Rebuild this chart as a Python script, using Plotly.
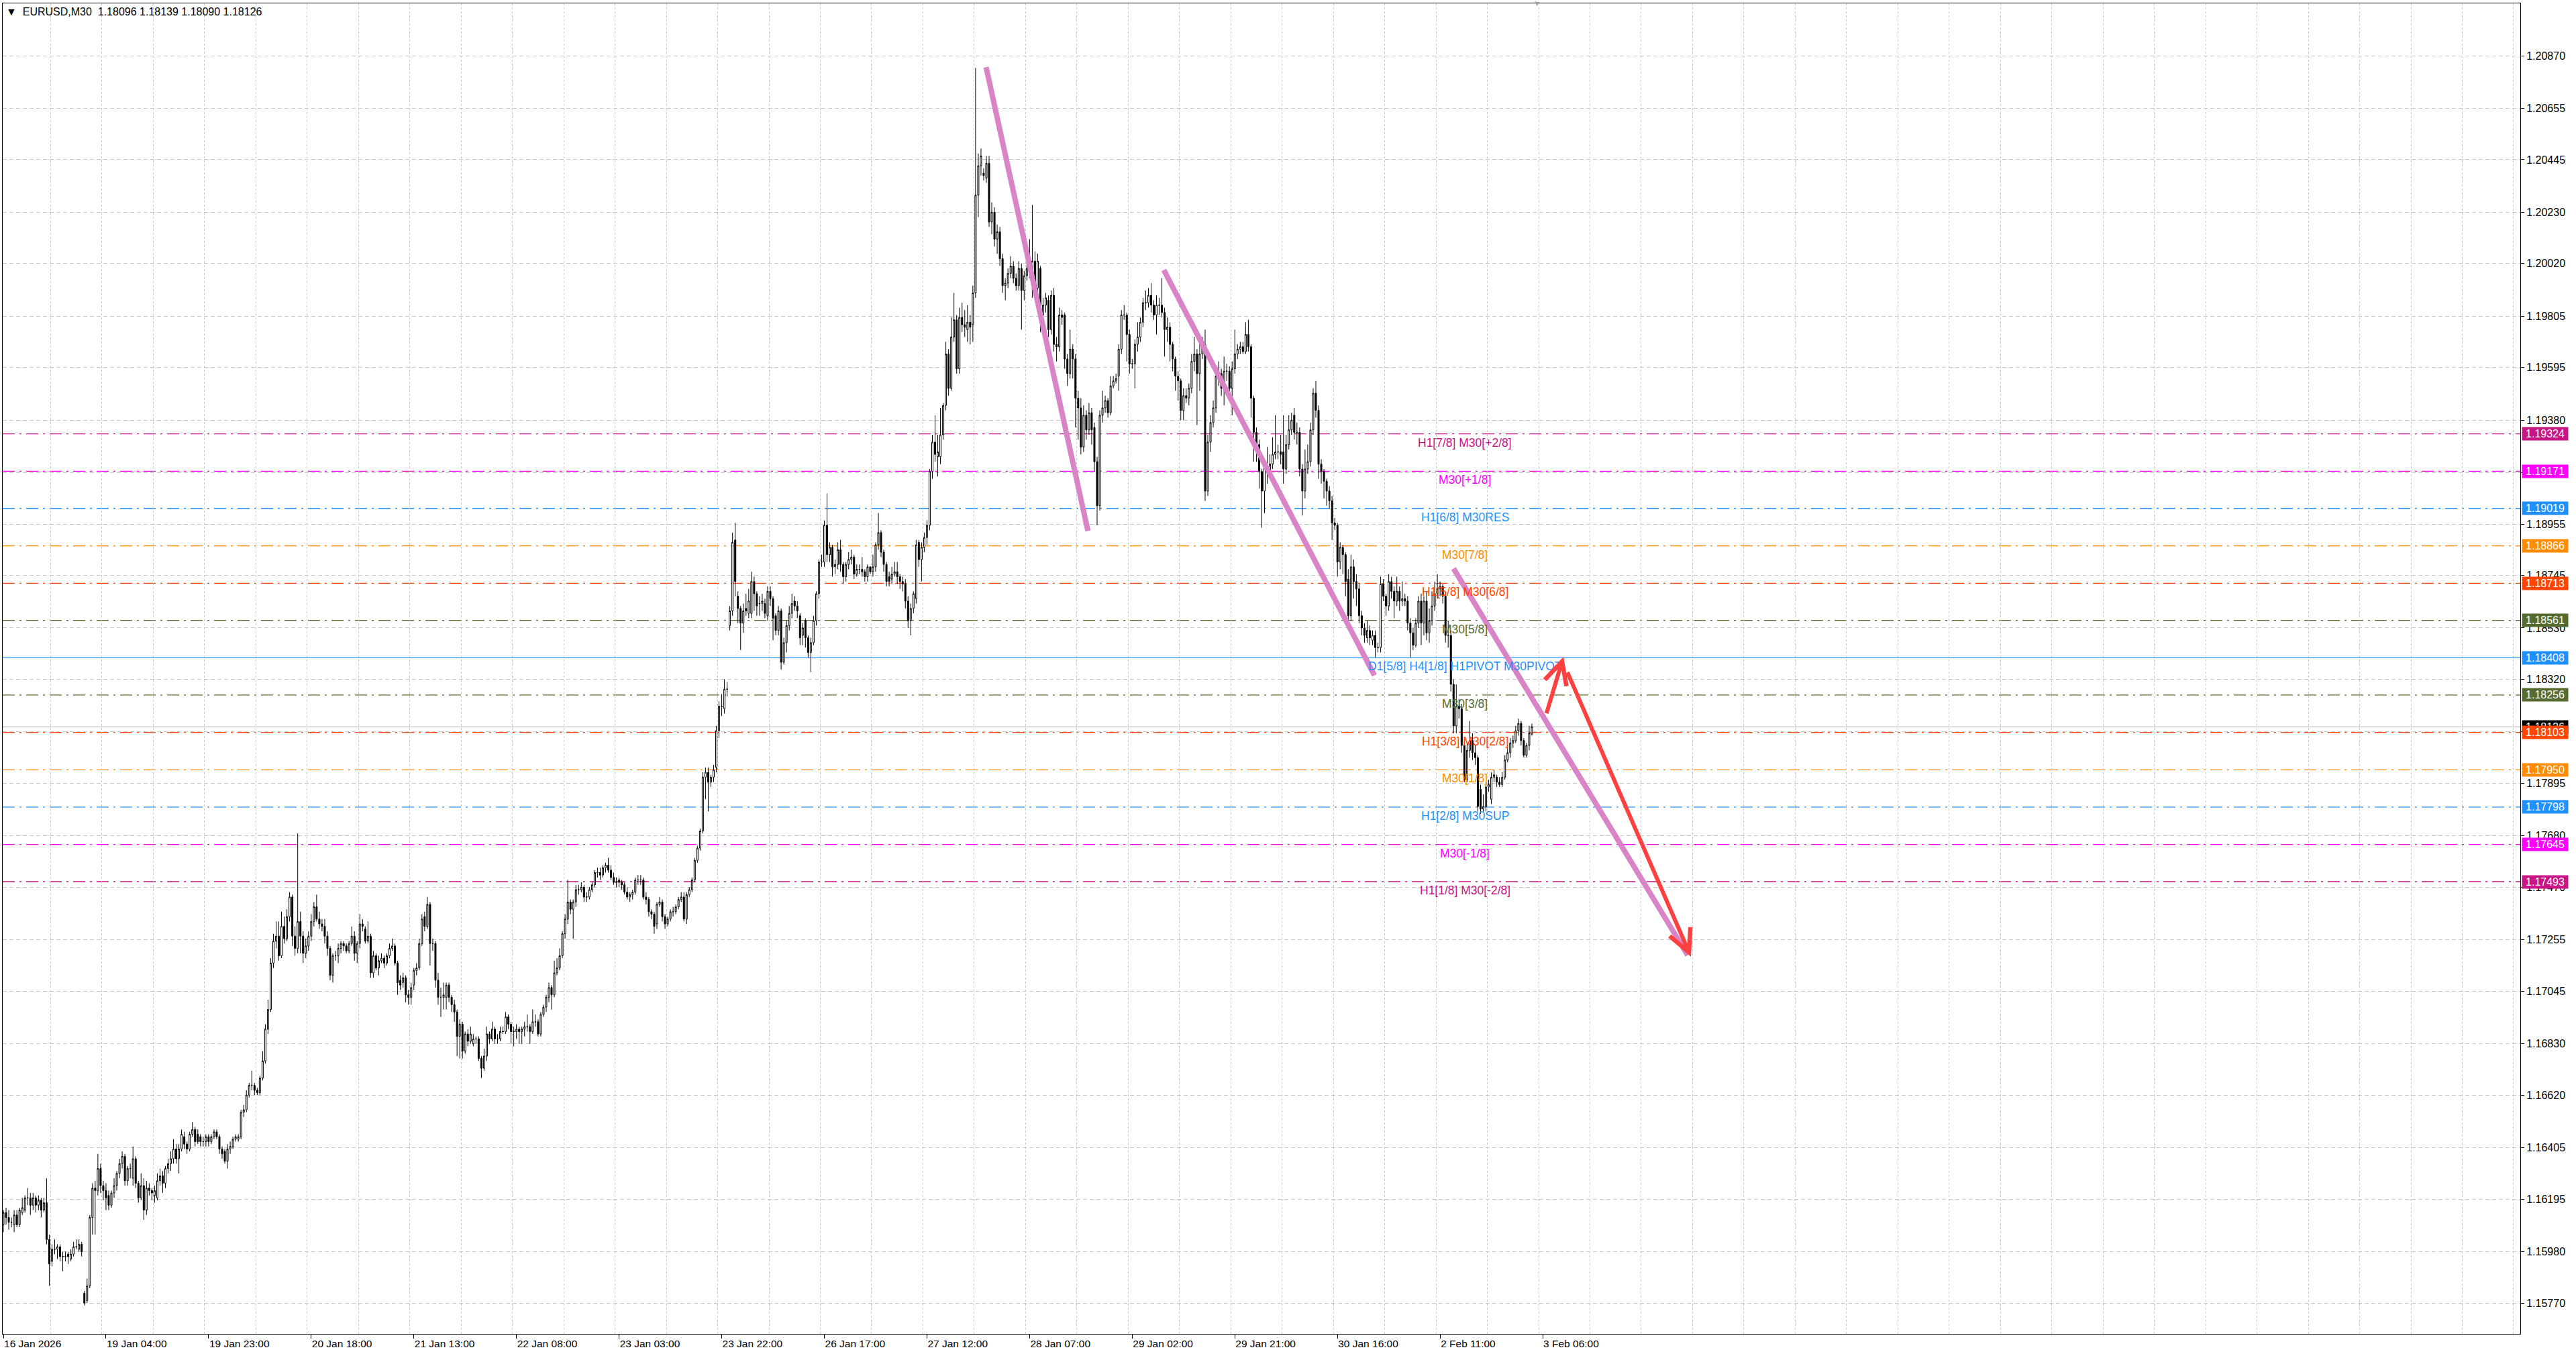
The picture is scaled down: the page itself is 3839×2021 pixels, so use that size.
import plotly.graph_objects as go

# EURUSD M30 candles (bar index 0 = 16 Jan 2026 09:00)
OPEN = [
    1.1609, 1.1614, 1.1612, 1.1610, 1.1609, 1.1613, 1.1609, 1.1614, 1.1615, 1.1620,
    1.1620, 1.1617, 1.1620, 1.1617, 1.1619, 1.1615, 1.1618, 1.1603, 1.1594, 1.1599,
    1.1599, 1.1600, 1.1596, 1.1596, 1.1597, 1.1595, 1.1597, 1.1600, 1.1599, 1.1601,
    1.1581, 1.1578, 1.1584, 1.1612, 1.1624, 1.1623, 1.1632, 1.1625, 1.1623, 1.1621,
    1.1617, 1.1622, 1.1625, 1.1630, 1.1634, 1.1637, 1.1627, 1.1632, 1.1628, 1.1636,
    1.1626, 1.1620, 1.1625, 1.1615, 1.1624, 1.1623, 1.1621, 1.1620, 1.1627, 1.1629,
    1.1626, 1.1632, 1.1634, 1.1636, 1.1640, 1.1636, 1.1640, 1.1645, 1.1642, 1.1640,
    1.1646, 1.1648, 1.1646, 1.1645, 1.1643, 1.1643, 1.1645, 1.1643, 1.1645, 1.1647,
    1.1645, 1.1640, 1.1639, 1.1635, 1.1640, 1.1641, 1.1644, 1.1644, 1.1645, 1.1655,
    1.1656, 1.1662, 1.1666, 1.1666, 1.1664, 1.1663, 1.1669, 1.1676, 1.1689, 1.1697,
    1.1716, 1.1725, 1.1727, 1.1719, 1.1731, 1.1726, 1.1735, 1.1743, 1.1727, 1.1722,
    1.1733, 1.1727, 1.1720, 1.1723, 1.1727, 1.1733, 1.1739, 1.1734, 1.1732, 1.1731,
    1.1727, 1.1722, 1.1711, 1.1719, 1.1719, 1.1722, 1.1724, 1.1723, 1.1721, 1.1724,
    1.1727, 1.1720, 1.1724, 1.1732, 1.1730, 1.1725, 1.1727, 1.1712, 1.1719, 1.1714,
    1.1717, 1.1718, 1.1716, 1.1719, 1.1722, 1.1723, 1.1716, 1.1709, 1.1708, 1.1710,
    1.1703, 1.1702, 1.1707, 1.1713, 1.1714, 1.1724, 1.1735, 1.1731, 1.1740, 1.1724,
    1.1724, 1.1709, 1.1702, 1.1702, 1.1702, 1.1707, 1.1702, 1.1699, 1.1696, 1.1686,
    1.1691, 1.1680, 1.1687, 1.1684, 1.1683, 1.1685, 1.1685, 1.1677, 1.1673, 1.1678,
    1.1687, 1.1685, 1.1689, 1.1685, 1.1685, 1.1688, 1.1688, 1.1694, 1.1691, 1.1688,
    1.1688, 1.1689, 1.1688, 1.1689, 1.1690, 1.1690, 1.1688, 1.1692, 1.1692, 1.1687,
    1.1695, 1.1698, 1.1702, 1.1706, 1.1703, 1.1712, 1.1714, 1.1719, 1.1728, 1.1734,
    1.1741, 1.1738, 1.1741, 1.1746, 1.1746, 1.1747, 1.1743, 1.1743, 1.1746, 1.1748,
    1.1753, 1.1753, 1.1752, 1.1755, 1.1756, 1.1754, 1.1751, 1.1749, 1.1750, 1.1749,
    1.1748, 1.1745, 1.1743, 1.1744, 1.1745, 1.1750, 1.1750, 1.1750, 1.1743, 1.1742,
    1.1737, 1.1736, 1.1732, 1.1740, 1.1741, 1.1735, 1.1732, 1.1734, 1.1737, 1.1737,
    1.1739, 1.1742, 1.1743, 1.1734, 1.1744, 1.1746, 1.1750, 1.1758, 1.1763, 1.1770,
    1.1792, 1.1794, 1.1790, 1.1792, 1.1796, 1.1811, 1.1821, 1.1820, 1.1828, 1.1854,
    1.1860, 1.1889, 1.1866, 1.1861, 1.1855, 1.1861, 1.1859, 1.1859, 1.1872, 1.1867,
    1.1863, 1.1863, 1.1863, 1.1858, 1.1868, 1.1865, 1.1858, 1.1852, 1.1860, 1.1839,
    1.1847, 1.1854, 1.1859, 1.1864, 1.1862, 1.1858, 1.1850, 1.1856, 1.1849, 1.1843,
    1.1847, 1.1856, 1.1867, 1.1880, 1.1880, 1.1895, 1.1883, 1.1886, 1.1878, 1.1879,
    1.1885, 1.1879, 1.1874, 1.1879, 1.1881, 1.1882, 1.1875, 1.1877, 1.1877, 1.1876,
    1.1874, 1.1878, 1.1876, 1.1878, 1.1887, 1.1892, 1.1884, 1.1879, 1.1874, 1.1873,
    1.1875, 1.1876, 1.1874, 1.1872, 1.1871, 1.1864, 1.1856, 1.1861, 1.1865, 1.1888,
    1.1881, 1.1886, 1.1890, 1.1895, 1.1917, 1.1929, 1.1923, 1.1923, 1.1932, 1.1944,
    1.1965, 1.1951, 1.1972, 1.1979, 1.1959, 1.1980, 1.1977, 1.1975, 1.1978, 1.1977,
    1.1990, 1.2030, 1.2042, 1.2039, 1.2037, 1.2043, 1.2019, 1.2023, 1.2012, 1.2015,
    1.2004, 1.1993, 1.1994, 1.1998, 1.2001, 1.1996, 1.1993, 1.2000, 1.1991, 1.1997,
    1.2000, 1.1993, 1.2003, 1.1992, 1.2000, 1.1981, 1.1985, 1.1987, 1.1975, 1.1989,
    1.1969, 1.1968, 1.1981, 1.1981, 1.1963, 1.1957, 1.1967, 1.1963, 1.1947, 1.1943,
    1.1927, 1.1940, 1.1934, 1.1941, 1.1935, 1.1921, 1.1903, 1.1940, 1.1943, 1.1946,
    1.1941, 1.1952, 1.1954, 1.1956, 1.1967, 1.1981, 1.1981, 1.1973, 1.1961, 1.1961,
    1.1969, 1.1972, 1.1978, 1.1986, 1.1986, 1.1989, 1.1985, 1.1981, 1.1985, 1.1985,
    1.1982, 1.1975, 1.1976, 1.1969, 1.1963, 1.1956, 1.1954, 1.1942, 1.1948, 1.1947,
    1.1951, 1.1962, 1.1965, 1.1957, 1.1965, 1.1969, 1.1909, 1.1929, 1.1937, 1.1943,
    1.1956, 1.1957, 1.1951, 1.1958, 1.1958, 1.1951, 1.1959, 1.1965, 1.1967, 1.1968,
    1.1966, 1.1973, 1.1968, 1.1947, 1.1933, 1.1928, 1.1917, 1.1909, 1.1919, 1.1917,
    1.1920, 1.1924, 1.1925, 1.1925, 1.1925, 1.1918, 1.1928, 1.1934, 1.1940, 1.1933,
    1.1933, 1.1918, 1.1909, 1.1918, 1.1921, 1.1934, 1.1949, 1.1942, 1.1920, 1.1917,
    1.1913, 1.1909, 1.1905, 1.1896, 1.1895, 1.1880, 1.1886, 1.1883, 1.1873, 1.1858,
    1.1878, 1.1872, 1.1869, 1.1858, 1.1853, 1.1849, 1.1852, 1.1848, 1.1850, 1.1845,
    1.1845, 1.1871, 1.1866, 1.1862, 1.1872, 1.1868, 1.1864, 1.1868, 1.1864, 1.1865,
    1.1864, 1.1855, 1.1851, 1.1846, 1.1855, 1.1864, 1.1855, 1.1864, 1.1851, 1.1856,
    1.1862, 1.1867, 1.1869, 1.1870, 1.1866, 1.1850, 1.1850, 1.1830, 1.1813, 1.1821,
    1.1820, 1.1805, 1.1791, 1.1803, 1.1807, 1.1802, 1.1800, 1.1787, 1.1779, 1.1780,
    1.1788, 1.1783, 1.1792, 1.1792, 1.1790, 1.1789, 1.1792, 1.1799, 1.1802, 1.1806,
    1.1807, 1.1811, 1.1814, 1.1807, 1.1801, 1.1805, 1.18096,
]
HIGH = [
    1.1615, 1.1616, 1.1615, 1.1612, 1.1615, 1.1615, 1.1616, 1.1620, 1.1621, 1.1624,
    1.1622, 1.1622, 1.1621, 1.1621, 1.1620, 1.1620, 1.1628, 1.1605, 1.1601, 1.1603,
    1.1601, 1.1601, 1.1598, 1.1598, 1.1598, 1.1599, 1.1602, 1.1603, 1.1603, 1.1602,
    1.1582, 1.1587, 1.1613, 1.1626, 1.1627, 1.1638, 1.1634, 1.1627, 1.1626, 1.1623,
    1.1623, 1.1628, 1.1631, 1.1636, 1.1639, 1.1638, 1.1633, 1.1634, 1.1641, 1.1637,
    1.1627, 1.1630, 1.1628, 1.1627, 1.1626, 1.1624, 1.1625, 1.1630, 1.1632, 1.1631,
    1.1633, 1.1636, 1.1639, 1.1644, 1.1642, 1.1642, 1.1648, 1.1647, 1.1643, 1.1647,
    1.1651, 1.1649, 1.1648, 1.1646, 1.1645, 1.1646, 1.1646, 1.1646, 1.1648, 1.1648,
    1.1646, 1.1641, 1.1640, 1.1642, 1.1643, 1.1645, 1.1646, 1.1646, 1.1656, 1.1658,
    1.1664, 1.1667, 1.1672, 1.1667, 1.1665, 1.1670, 1.1680, 1.1691, 1.1701, 1.1718,
    1.1728, 1.1733, 1.1733, 1.1737, 1.1735, 1.1738, 1.1745, 1.1744, 1.1731, 1.1769,
    1.1737, 1.1729, 1.1726, 1.1729, 1.1736, 1.1741, 1.1744, 1.1737, 1.1734, 1.1734,
    1.1729, 1.1723, 1.1720, 1.1721, 1.1724, 1.1725, 1.1725, 1.1724, 1.1725, 1.1731,
    1.1729, 1.1725, 1.1736, 1.1734, 1.1731, 1.1733, 1.1728, 1.1721, 1.1720, 1.1719,
    1.1720, 1.1719, 1.1720, 1.1724, 1.1726, 1.1724, 1.1717, 1.1711, 1.1712, 1.1711,
    1.1705, 1.1708, 1.1714, 1.1716, 1.1726, 1.1736, 1.1737, 1.1743, 1.1741, 1.1726,
    1.1725, 1.1712, 1.1706, 1.1708, 1.1708, 1.1708, 1.1703, 1.1701, 1.1697, 1.1693,
    1.1692, 1.1688, 1.1689, 1.1690, 1.1687, 1.1686, 1.1686, 1.1678, 1.1681, 1.1690,
    1.1688, 1.1692, 1.1690, 1.1687, 1.1690, 1.1690, 1.1696, 1.1695, 1.1692, 1.1690,
    1.1691, 1.1690, 1.1690, 1.1692, 1.1695, 1.1691, 1.1697, 1.1695, 1.1693, 1.1696,
    1.1699, 1.1703, 1.1708, 1.1707, 1.1717, 1.1718, 1.1722, 1.1729, 1.1736, 1.1750,
    1.1742, 1.1742, 1.1748, 1.1748, 1.1749, 1.1748, 1.1745, 1.1747, 1.1749, 1.1754,
    1.1755, 1.1755, 1.1756, 1.1757, 1.1759, 1.1756, 1.1753, 1.1751, 1.1751, 1.1750,
    1.1749, 1.1747, 1.1745, 1.1746, 1.1751, 1.1752, 1.1752, 1.1751, 1.1745, 1.1743,
    1.1738, 1.1737, 1.1741, 1.1743, 1.1742, 1.1736, 1.1735, 1.1738, 1.1739, 1.1740,
    1.1743, 1.1745, 1.1745, 1.1745, 1.1747, 1.1751, 1.1759, 1.1764, 1.1771, 1.1794,
    1.1796, 1.1796, 1.1793, 1.1797, 1.1813, 1.1823, 1.1826, 1.1832, 1.1831, 1.1862,
    1.1892, 1.1896, 1.1868, 1.1862, 1.1863, 1.1867, 1.1869, 1.1876, 1.1874, 1.1868,
    1.1866, 1.1867, 1.1865, 1.1870, 1.1870, 1.1866, 1.1859, 1.1862, 1.1861, 1.1849,
    1.1856, 1.1862, 1.1867, 1.1866, 1.1864, 1.1859, 1.1855, 1.1857, 1.1850, 1.1849,
    1.1858, 1.1868, 1.1881, 1.1883, 1.1897, 1.1908, 1.1888, 1.1887, 1.1881, 1.1888,
    1.1889, 1.1880, 1.1880, 1.1884, 1.1885, 1.1883, 1.1879, 1.1879, 1.1882, 1.1877,
    1.1879, 1.1878, 1.1883, 1.1888, 1.1900, 1.1893, 1.1885, 1.1880, 1.1876, 1.1878,
    1.1880, 1.1880, 1.1875, 1.1874, 1.1873, 1.1866, 1.1863, 1.1868, 1.1889, 1.1889,
    1.1888, 1.1892, 1.1897, 1.1918, 1.1932, 1.1940, 1.1932, 1.1943, 1.1945, 1.1970,
    1.1967, 1.1980, 1.1990, 1.1981, 1.1984, 1.1986, 1.1983, 1.1985, 1.1981, 1.1993,
    1.2082, 1.2047, 1.2049, 1.2041, 1.2046, 1.2046, 1.2027, 1.2025, 1.2018, 1.2017,
    1.2006, 1.1996, 1.2000, 1.2005, 1.2003, 1.1998, 1.2003, 1.2002, 1.1999, 1.2004,
    1.2012, 1.2026, 1.2007, 1.2006, 1.2001, 1.1988, 1.1990, 1.1989, 1.1991, 1.1992,
    1.1972, 1.1984, 1.1983, 1.1982, 1.1965, 1.1975, 1.1969, 1.1965, 1.1950, 1.1947,
    1.1944, 1.1942, 1.1945, 1.1943, 1.1937, 1.1923, 1.1942, 1.1950, 1.1948, 1.1947,
    1.1956, 1.1956, 1.1957, 1.1969, 1.1983, 1.1985, 1.1982, 1.1975, 1.1963, 1.1971,
    1.1978, 1.1980, 1.1988, 1.1991, 1.1992, 1.1994, 1.1987, 1.1989, 1.1988, 1.1996,
    1.1984, 1.1980, 1.1978, 1.1970, 1.1964, 1.1958, 1.1955, 1.1951, 1.1951, 1.1953,
    1.1965, 1.1972, 1.1967, 1.1969, 1.1972, 1.1975, 1.1932, 1.1940, 1.1946, 1.1958,
    1.1962, 1.1959, 1.1964, 1.1961, 1.1960, 1.1962, 1.1975, 1.1969, 1.1970, 1.1970,
    1.1978, 1.1979, 1.1969, 1.1948, 1.1935, 1.1930, 1.1918, 1.1921, 1.1927, 1.1924,
    1.1931, 1.1940, 1.1928, 1.1932, 1.1940, 1.1932, 1.1940, 1.1941, 1.1943, 1.1937,
    1.1935, 1.1920, 1.1926, 1.1928, 1.1937, 1.1951, 1.1954, 1.1944, 1.1922, 1.1918,
    1.1914, 1.1911, 1.1907, 1.1898, 1.1896, 1.1888, 1.1887, 1.1884, 1.1877, 1.1883,
    1.1881, 1.1875, 1.1871, 1.1860, 1.1855, 1.1856, 1.1854, 1.1852, 1.1852, 1.1847,
    1.1874, 1.1873, 1.1867, 1.1875, 1.1874, 1.1870, 1.1874, 1.1870, 1.1872, 1.1867,
    1.1866, 1.1857, 1.1853, 1.1857, 1.1866, 1.1867, 1.1866, 1.1868, 1.1861, 1.1868,
    1.1872, 1.1875, 1.1872, 1.1871, 1.1868, 1.1856, 1.1852, 1.1832, 1.1830, 1.1824,
    1.1822, 1.1807, 1.1806, 1.1815, 1.1810, 1.1805, 1.1801, 1.1789, 1.1785, 1.1790,
    1.1791, 1.1794, 1.1795, 1.1793, 1.1792, 1.1794, 1.1801, 1.1805, 1.1808, 1.1809,
    1.1813, 1.1816, 1.1815, 1.1808, 1.1806, 1.1813, 1.18139,
]
LOW = [
    1.1606, 1.1609, 1.1607, 1.1608, 1.1606, 1.1608, 1.1608, 1.1613, 1.1614, 1.1617,
    1.1613, 1.1615, 1.1614, 1.1615, 1.1612, 1.1614, 1.1601, 1.1584, 1.1592, 1.1597,
    1.1595, 1.1594, 1.1590, 1.1594, 1.1593, 1.1594, 1.1596, 1.1599, 1.1598, 1.1596,
    1.1576, 1.1577, 1.1583, 1.1605, 1.1605, 1.1621, 1.1622, 1.1619, 1.1615, 1.1615,
    1.1616, 1.1620, 1.1623, 1.1628, 1.1632, 1.1625, 1.1625, 1.1628, 1.1625, 1.1624,
    1.1618, 1.1619, 1.1611, 1.1613, 1.1621, 1.1619, 1.1618, 1.1619, 1.1625, 1.1622,
    1.1624, 1.1630, 1.1631, 1.1634, 1.1634, 1.1630, 1.1639, 1.1640, 1.1638, 1.1639,
    1.1645, 1.1641, 1.1642, 1.1641, 1.1641, 1.1641, 1.1641, 1.1642, 1.1644, 1.1644,
    1.1638, 1.1636, 1.1634, 1.1632, 1.1638, 1.1640, 1.1643, 1.1643, 1.1644, 1.1653,
    1.1655, 1.1661, 1.1664, 1.1662, 1.1662, 1.1662, 1.1668, 1.1675, 1.1687, 1.1696,
    1.1714, 1.1722, 1.1717, 1.1718, 1.1724, 1.1725, 1.1733, 1.1723, 1.1719, 1.1720,
    1.1720, 1.1716, 1.1718, 1.1721, 1.1725, 1.1731, 1.1733, 1.1730, 1.1729, 1.1724,
    1.1719, 1.1709, 1.1708, 1.1717, 1.1716, 1.1720, 1.1721, 1.1720, 1.1720, 1.1723,
    1.1717, 1.1716, 1.1722, 1.1729, 1.1724, 1.1724, 1.1710, 1.1710, 1.1713, 1.1711,
    1.1716, 1.1714, 1.1715, 1.1718, 1.1721, 1.1715, 1.1703, 1.1705, 1.1706, 1.1700,
    1.1699, 1.1699, 1.1705, 1.1711, 1.1713, 1.1723, 1.1729, 1.1730, 1.1715, 1.1721,
    1.1706, 1.1699, 1.1694, 1.1697, 1.1697, 1.1700, 1.1696, 1.1692, 1.1678, 1.1677,
    1.1677, 1.1679, 1.1682, 1.1683, 1.1682, 1.1683, 1.1676, 1.1669, 1.1672, 1.1676,
    1.1683, 1.1684, 1.1683, 1.1683, 1.1684, 1.1687, 1.1687, 1.1689, 1.1683, 1.1682,
    1.1685, 1.1683, 1.1683, 1.1686, 1.1688, 1.1683, 1.1687, 1.1690, 1.1686, 1.1686,
    1.1694, 1.1696, 1.1700, 1.1697, 1.1702, 1.1711, 1.1713, 1.1718, 1.1726, 1.1732,
    1.1736, 1.1726, 1.1739, 1.1744, 1.1745, 1.1741, 1.1741, 1.1742, 1.1745, 1.1747,
    1.1751, 1.1750, 1.1751, 1.1753, 1.1753, 1.1750, 1.1748, 1.1747, 1.1747, 1.1746,
    1.1744, 1.1742, 1.1741, 1.1742, 1.1744, 1.1748, 1.1748, 1.1742, 1.1740, 1.1735,
    1.1734, 1.1728, 1.1730, 1.1739, 1.1733, 1.1730, 1.1731, 1.1733, 1.1735, 1.1736,
    1.1738, 1.1741, 1.1733, 1.1732, 1.1743, 1.1745, 1.1749, 1.1757, 1.1762, 1.1769,
    1.1783, 1.1778, 1.1788, 1.1790, 1.1794, 1.1808, 1.1817, 1.1818, 1.1825, 1.1852,
    1.1858, 1.1866, 1.1855, 1.1844, 1.1851, 1.1858, 1.1857, 1.1857, 1.1860, 1.1858,
    1.1858, 1.1860, 1.1857, 1.1856, 1.1862, 1.1848, 1.1850, 1.1850, 1.1836, 1.1838,
    1.1843, 1.1852, 1.1857, 1.1860, 1.1857, 1.1846, 1.1846, 1.1845, 1.1841, 1.1835,
    1.1846, 1.1854, 1.1865, 1.1878, 1.1878, 1.1880, 1.1880, 1.1874, 1.1875, 1.1877,
    1.1876, 1.1871, 1.1872, 1.1877, 1.1879, 1.1873, 1.1874, 1.1875, 1.1874, 1.1872,
    1.1872, 1.1875, 1.1874, 1.1876, 1.1885, 1.1882, 1.1876, 1.1870, 1.1870, 1.1871,
    1.1874, 1.1871, 1.1869, 1.1868, 1.1861, 1.1853, 1.1850, 1.1859, 1.1863, 1.1878,
    1.1872, 1.1884, 1.1887, 1.1893, 1.1914, 1.1921, 1.1915, 1.1920, 1.1930, 1.1942,
    1.1948, 1.1950, 1.1970, 1.1957, 1.1957, 1.1974, 1.1972, 1.1970, 1.1969, 1.1970,
    1.1988, 1.2021, 1.2038, 1.2036, 1.2035, 1.2017, 1.2014, 1.2009, 1.2006, 1.2001,
    1.1990, 1.1987, 1.1992, 1.1996, 1.1994, 1.1991, 1.1991, 1.1975, 1.1987, 1.1995,
    1.1996, 1.1988, 1.1989, 1.1990, 1.1974, 1.1978, 1.1982, 1.1972, 1.1973, 1.1966,
    1.1962, 1.1966, 1.1977, 1.1959, 1.1952, 1.1955, 1.1955, 1.1935, 1.1930, 1.1924,
    1.1925, 1.1930, 1.1932, 1.1928, 1.1917, 1.1895, 1.1901, 1.1937, 1.1941, 1.1939,
    1.1940, 1.1951, 1.1953, 1.1950, 1.1965, 1.1979, 1.1962, 1.1957, 1.1959, 1.1951,
    1.1966, 1.1970, 1.1976, 1.1983, 1.1984, 1.1982, 1.1979, 1.1973, 1.1981, 1.1980,
    1.1964, 1.1970, 1.1962, 1.1958, 1.1950, 1.1946, 1.1938, 1.1938, 1.1945, 1.1944,
    1.1949, 1.1958, 1.1936, 1.1950, 1.1963, 1.1905, 1.1907, 1.1925, 1.1935, 1.1941,
    1.1952, 1.1948, 1.1944, 1.1954, 1.1948, 1.1940, 1.1957, 1.1963, 1.1965, 1.1965,
    1.1965, 1.1966, 1.1939, 1.1921, 1.1921, 1.1910, 1.1894, 1.1900, 1.1912, 1.1914,
    1.1918, 1.1922, 1.1922, 1.1920, 1.1912, 1.1916, 1.1926, 1.1932, 1.1930, 1.1928,
    1.1915, 1.1899, 1.1906, 1.1916, 1.1919, 1.1932, 1.1939, 1.1914, 1.1912, 1.1906,
    1.1903, 1.1902, 1.1889, 1.1893, 1.1874, 1.1877, 1.1875, 1.1866, 1.1855, 1.1856,
    1.1865, 1.1862, 1.1855, 1.1850, 1.1847, 1.1847, 1.1846, 1.1846, 1.1841, 1.1843,
    1.1843, 1.1864, 1.1858, 1.1860, 1.1865, 1.1857, 1.1862, 1.1860, 1.1862, 1.1862,
    1.1852, 1.1841, 1.1844, 1.1845, 1.1853, 1.1846, 1.1850, 1.1848, 1.1847, 1.1854,
    1.1860, 1.1865, 1.1866, 1.1863, 1.1847, 1.1845, 1.1827, 1.1810, 1.1810, 1.1816,
    1.1802, 1.1790, 1.1790, 1.1800, 1.1799, 1.1797, 1.1778, 1.1777, 1.1778, 1.1778,
    1.1786, 1.1781, 1.1790, 1.1788, 1.1788, 1.1788, 1.1791, 1.1798, 1.1800, 1.1804,
    1.1806, 1.1809, 1.1805, 1.1800, 1.1800, 1.1803, 1.18090,
]
CLOSE = [
    1.1614, 1.1612, 1.1610, 1.1610, 1.1613, 1.1609, 1.1615, 1.1616, 1.1620, 1.1620,
    1.1617, 1.1620, 1.1617, 1.1619, 1.1615, 1.1618, 1.1603, 1.1593, 1.1599, 1.1599,
    1.1600, 1.1596, 1.1596, 1.1596, 1.1596, 1.1597, 1.1600, 1.1600, 1.1601, 1.1598,
    1.1577, 1.1584, 1.1612, 1.1624, 1.1623, 1.1632, 1.1625, 1.1623, 1.1620, 1.1617,
    1.1622, 1.1625, 1.1630, 1.1634, 1.1637, 1.1627, 1.1632, 1.1632, 1.1636, 1.1626,
    1.1620, 1.1625, 1.1615, 1.1624, 1.1623, 1.1622, 1.1623, 1.1627, 1.1629, 1.1626,
    1.1632, 1.1634, 1.1636, 1.1640, 1.1636, 1.1640, 1.1646, 1.1642, 1.1640, 1.1646,
    1.1648, 1.1643, 1.1643, 1.1643, 1.1643, 1.1645, 1.1643, 1.1645, 1.1647, 1.1645,
    1.1640, 1.1638, 1.1635, 1.1640, 1.1641, 1.1644, 1.1645, 1.1645, 1.1655, 1.1656,
    1.1662, 1.1666, 1.1666, 1.1664, 1.1663, 1.1669, 1.1676, 1.1689, 1.1697, 1.1716,
    1.1725, 1.1727, 1.1719, 1.1731, 1.1726, 1.1735, 1.1743, 1.1727, 1.1722, 1.1733,
    1.1727, 1.1720, 1.1723, 1.1727, 1.1733, 1.1739, 1.1734, 1.1732, 1.1731, 1.1727,
    1.1722, 1.1711, 1.1719, 1.1719, 1.1722, 1.1724, 1.1723, 1.1721, 1.1724, 1.1727,
    1.1720, 1.1724, 1.1732, 1.1731, 1.1725, 1.1727, 1.1712, 1.1719, 1.1714, 1.1717,
    1.1718, 1.1716, 1.1719, 1.1722, 1.1723, 1.1716, 1.1708, 1.1707, 1.1710, 1.1703,
    1.1702, 1.1706, 1.1713, 1.1714, 1.1724, 1.1734, 1.1731, 1.1740, 1.1724, 1.1724,
    1.1709, 1.1702, 1.1702, 1.1703, 1.1707, 1.1702, 1.1699, 1.1696, 1.1686, 1.1691,
    1.1680, 1.1687, 1.1684, 1.1687, 1.1685, 1.1685, 1.1677, 1.1673, 1.1678, 1.1687,
    1.1685, 1.1689, 1.1685, 1.1685, 1.1688, 1.1688, 1.1694, 1.1691, 1.1688, 1.1688,
    1.1689, 1.1688, 1.1689, 1.1690, 1.1690, 1.1688, 1.1692, 1.1692, 1.1687, 1.1695,
    1.1698, 1.1702, 1.1706, 1.1703, 1.1712, 1.1714, 1.1719, 1.1728, 1.1734, 1.1741,
    1.1738, 1.1741, 1.1746, 1.1746, 1.1747, 1.1743, 1.1743, 1.1746, 1.1748, 1.1753,
    1.1753, 1.1752, 1.1755, 1.1756, 1.1754, 1.1751, 1.1749, 1.1749, 1.1749, 1.1748,
    1.1745, 1.1743, 1.1744, 1.1745, 1.1750, 1.1750, 1.1750, 1.1743, 1.1742, 1.1737,
    1.1736, 1.1731, 1.1740, 1.1741, 1.1735, 1.1732, 1.1734, 1.1737, 1.1737, 1.1739,
    1.1742, 1.1743, 1.1734, 1.1744, 1.1746, 1.1750, 1.1758, 1.1763, 1.1770, 1.1792,
    1.1794, 1.1790, 1.1792, 1.1795, 1.1811, 1.1821, 1.1821, 1.1828, 1.1828, 1.1860,
    1.1888, 1.1872, 1.1861, 1.1855, 1.1860, 1.1860, 1.1864, 1.1872, 1.1867, 1.1862,
    1.1863, 1.1864, 1.1859, 1.1868, 1.1865, 1.1857, 1.1852, 1.1860, 1.1839, 1.1847,
    1.1854, 1.1859, 1.1863, 1.1862, 1.1860, 1.1849, 1.1853, 1.1849, 1.1843, 1.1847,
    1.1856, 1.1867, 1.1880, 1.1880, 1.1895, 1.1883, 1.1886, 1.1878, 1.1879, 1.1885,
    1.1879, 1.1874, 1.1879, 1.1881, 1.1882, 1.1875, 1.1877, 1.1877, 1.1876, 1.1874,
    1.1878, 1.1876, 1.1878, 1.1887, 1.1892, 1.1884, 1.1879, 1.1872, 1.1872, 1.1875,
    1.1876, 1.1874, 1.1872, 1.1871, 1.1864, 1.1856, 1.1861, 1.1867, 1.1887, 1.1881,
    1.1886, 1.1890, 1.1895, 1.1917, 1.1929, 1.1924, 1.1925, 1.1932, 1.1944, 1.1965,
    1.1951, 1.1972, 1.1979, 1.1959, 1.1980, 1.1977, 1.1976, 1.1978, 1.1976, 1.1990,
    1.2030, 1.2042, 1.2046, 1.2038, 1.2043, 1.2019, 1.2023, 1.2012, 1.2015, 1.2004,
    1.1993, 1.1994, 1.1998, 1.2001, 1.1996, 1.1993, 1.2000, 1.1991, 1.1997, 1.2000,
    1.2003, 1.2003, 1.1992, 1.2003, 1.1982, 1.1985, 1.1988, 1.1975, 1.1989, 1.1969,
    1.1968, 1.1981, 1.1980, 1.1963, 1.1957, 1.1967, 1.1963, 1.1947, 1.1943, 1.1927,
    1.1940, 1.1934, 1.1941, 1.1934, 1.1921, 1.1903, 1.1940, 1.1943, 1.1946, 1.1941,
    1.1952, 1.1954, 1.1955, 1.1967, 1.1981, 1.1981, 1.1973, 1.1961, 1.1961, 1.1969,
    1.1972, 1.1978, 1.1986, 1.1986, 1.1989, 1.1985, 1.1981, 1.1985, 1.1985, 1.1982,
    1.1975, 1.1976, 1.1969, 1.1963, 1.1956, 1.1954, 1.1942, 1.1948, 1.1947, 1.1951,
    1.1962, 1.1965, 1.1957, 1.1965, 1.1969, 1.1909, 1.1929, 1.1937, 1.1943, 1.1956,
    1.1957, 1.1951, 1.1958, 1.1958, 1.1951, 1.1959, 1.1965, 1.1967, 1.1968, 1.1966,
    1.1973, 1.1968, 1.1947, 1.1933, 1.1928, 1.1917, 1.1909, 1.1919, 1.1917, 1.1920,
    1.1924, 1.1925, 1.1925, 1.1924, 1.1918, 1.1928, 1.1934, 1.1938, 1.1933, 1.1933,
    1.1918, 1.1909, 1.1918, 1.1921, 1.1934, 1.1949, 1.1942, 1.1920, 1.1917, 1.1913,
    1.1909, 1.1905, 1.1896, 1.1895, 1.1880, 1.1886, 1.1883, 1.1872, 1.1858, 1.1878,
    1.1872, 1.1869, 1.1858, 1.1853, 1.1850, 1.1852, 1.1849, 1.1850, 1.1845, 1.1845,
    1.1871, 1.1866, 1.1862, 1.1872, 1.1868, 1.1864, 1.1868, 1.1864, 1.1865, 1.1864,
    1.1855, 1.1851, 1.1846, 1.1855, 1.1864, 1.1855, 1.1864, 1.1851, 1.1856, 1.1862,
    1.1867, 1.1869, 1.1870, 1.1866, 1.1850, 1.1850, 1.1830, 1.1813, 1.1821, 1.1820,
    1.1805, 1.1791, 1.1803, 1.1807, 1.1802, 1.1800, 1.1780, 1.1779, 1.1780, 1.1788,
    1.1789, 1.1792, 1.1793, 1.1790, 1.1789, 1.1792, 1.1799, 1.1802, 1.1806, 1.1807,
    1.1811, 1.1814, 1.1807, 1.1801, 1.1805, 1.1810, 1.18126,
]

# time axis labels (every 38 bars)
X_LABELS = ["16 Jan 2026", "19 Jan 04:00", "19 Jan 23:00", "20 Jan 18:00", "21 Jan 13:00",
            "22 Jan 08:00", "23 Jan 03:00", "23 Jan 22:00", "26 Jan 17:00", "27 Jan 12:00",
            "28 Jan 07:00", "29 Jan 02:00", "29 Jan 21:00", "30 Jan 16:00", "2 Feb 11:00",
            "3 Feb 06:00"]
X_LABEL_BARS = [0, 38, 76, 114, 152, 190, 228, 266, 304, 342, 380, 418, 456, 494, 532, 570]

# price scale
Y_TICKS = [1.20870, 1.20655, 1.20445, 1.20230, 1.20020, 1.19805, 1.19595, 1.19380, 1.19165,
           1.18955, 1.18745, 1.18530, 1.18320, 1.18105, 1.17895, 1.17680, 1.17470, 1.17255,
           1.17045, 1.16830, 1.16620, 1.16405, 1.16195, 1.15980, 1.15770]

# Murrey math levels
LEVEL_PRICES = [1.19324, 1.19171, 1.19019, 1.18866, 1.18713, 1.18561, 1.18408,
                1.18256, 1.18103, 1.17950, 1.17798, 1.17645, 1.17493]
LEVEL_NAMES = ["H1[7/8] M30[+2/8]", "M30[+1/8]", "H1[6/8] M30RES", "M30[7/8]",
               "H1[5/8] M30[6/8]", "M30[5/8]", "D1[5/8] H4[1/8] H1PIVOT M30PIVOT",
               "M30[3/8]", "H1[3/8] M30[2/8]", "M30[1/8]", "H1[2/8] M30SUP",
               "M30[-1/8]", "H1[1/8] M30[-2/8]"]
LEVEL_COLORS = ["#C71585", "#FF00FF", "#1E90FF", "#FF8C00", "#FF4500", "#556B2F", "#1E90FF",
                "#556B2F", "#FF4500", "#FF8C00", "#1E90FF", "#FF00FF", "#C71585"]
LEVEL_LABEL_BAR = 541.2

BID = 1.18126

# hand drawn trend lines (bar, price) pairs
TREND_X = [[363.9, 401.6], [429.7, 507.7], [537.0, 623.7]]
TREND_Y = [[1.20823, 1.18927], [1.19994, 1.18336], [1.18773, 1.17192]]

# red forecast arrows: tail -> head
ARROW_TAIL_X = [571.3, 579.0]
ARROW_TAIL_Y = [1.18177, 1.18353]
ARROW_HEAD_X = [577.7, 624.9]
ARROW_HEAD_Y = [1.18413, 1.17186]

FONT = "Liberation Sans"

fig = go.Figure()

fig.add_trace(go.Candlestick(
    x=list(range(len(CLOSE))),
    open=OPEN, high=HIGH, low=LOW, close=CLOSE,
    increasing=dict(line=dict(color="black", width=1), fillcolor="white"),
    decreasing=dict(line=dict(color="black", width=1), fillcolor="black"),
    whiskerwidth=0,
    showlegend=False,
    hoverinfo="skip",
))

shapes = []
annotations = []

# bid line + its price box (drawn first so the level boxes sit on top)
shapes.append(dict(type="line", xref="paper", x0=0, x1=1, yref="y", y0=BID, y1=BID,
                   line=dict(color="#A9A9A9", width=1), layer="below"))
annotations.append(dict(x=1, y=BID, xref="paper", yref="y", text=f"{BID:.5f}",
                        showarrow=False, xanchor="left", yanchor="middle", xshift=2,
                        bgcolor="black", borderpad=1, width=66, height=17,
                        font=dict(family=FONT, size=16, color="white")))

# level lines + centred labels + right side price boxes
for price, name, col in zip(LEVEL_PRICES, LEVEL_NAMES, LEVEL_COLORS):
    pivot = "PIVOT" in name
    shapes.append(dict(type="line", xref="paper", x0=0, x1=1, yref="y", y0=price, y1=price,
                       line=dict(color=col, width=1.3, dash="solid" if pivot else "18px,7px,3px,7px"),
                       layer="below"))
    annotations.append(dict(x=LEVEL_LABEL_BAR, y=price, xref="x", yref="y", text=name,
                            showarrow=False, xanchor="center", yanchor="top", yshift=-1,
                            font=dict(family=FONT, size=17.5, color=col)))
    annotations.append(dict(x=1, y=price, xref="paper", yref="y", text=f"{price:.5f}",
                            showarrow=False, xanchor="left", yanchor="middle", xshift=2,
                            bgcolor=col, borderpad=1, width=66, height=17,
                            font=dict(family=FONT, size=16, color="white")))

# pink trend lines
for xs, ys in zip(TREND_X, TREND_Y):
    shapes.append(dict(type="line", xref="x", yref="y", x0=xs[0], x1=xs[1], y0=ys[0], y1=ys[1],
                       line=dict(color="#DA84C8", width=8), layer="above"))

# red arrows
for tx, ty, hx, hy in zip(ARROW_TAIL_X, ARROW_TAIL_Y, ARROW_HEAD_X, ARROW_HEAD_Y):
    annotations.append(dict(x=hx, y=hy, ax=tx, ay=ty, xref="x", yref="y", axref="x", ayref="y",
                            text="", showarrow=True, arrowhead=5, arrowsize=1.1,
                            arrowwidth=6, arrowcolor="#FF4040", standoff=0))

# header
annotations.append(dict(x=0, y=1, xref="paper", yref="paper", xanchor="left", yanchor="top",
                        xshift=3, yshift=-2, showarrow=False,
                        text="\u25bc  EURUSD,M30  1.18096 1.18139 1.18090 1.18126",
                        font=dict(family=FONT, size=16, color="black")))
# chart shift marker
annotations.append(dict(x=567.8, y=1, xref="x", yref="paper", xanchor="center", yanchor="middle",
                        showarrow=False, text="\u25bc", font=dict(size=11, color="#A0A0A0")))

grid_bars = [19 * k - 1.5 for k in range(1, 50)]

fig.update_layout(
    width=3839, height=2021,
    margin=dict(l=4, r=83, t=5, b=33),
    paper_bgcolor="white", plot_bgcolor="white",
    shapes=shapes, annotations=annotations,
    showlegend=False,
    font=dict(family=FONT, size=14, color="black"),
    xaxis=dict(
        range=[-0.25, 932], rangeslider=dict(visible=False),
        tickmode="array", tickvals=X_LABEL_BARS, ticktext=X_LABELS,
        ticks="outside", ticklen=6, tickcolor="black",
        ticklabelposition="outside right",
        tickfont=dict(family=FONT, size=15.5, color="black"),
        showgrid=False, zeroline=False,
        showline=True, linecolor="black", linewidth=1, mirror=True,
        minor=dict(tickmode="array", tickvals=grid_bars, showgrid=True,
                   gridcolor="#C8C8C8", griddash="3px,3px", gridwidth=1, ticks=""),
    ),
    yaxis=dict(
        range=[1.15644, 1.21084], side="right",
        tickmode="array", tickvals=Y_TICKS, tickformat=".5f",
        ticks="outside", ticklen=5, tickcolor="black",
        tickfont=dict(family=FONT, size=16, color="black"),
        showgrid=True, gridcolor="#C8C8C8", griddash="6px,4px", gridwidth=1,
        zeroline=False,
        showline=True, linecolor="black", linewidth=1, mirror=True,
    ),
)

# drop the browser's default page margin so the chart sits flush at the top-left
fig.write_html("out.html",
               config={"displayModeBar": False},
               post_script="document.body.style.margin='0';document.body.style.overflow='hidden';")
